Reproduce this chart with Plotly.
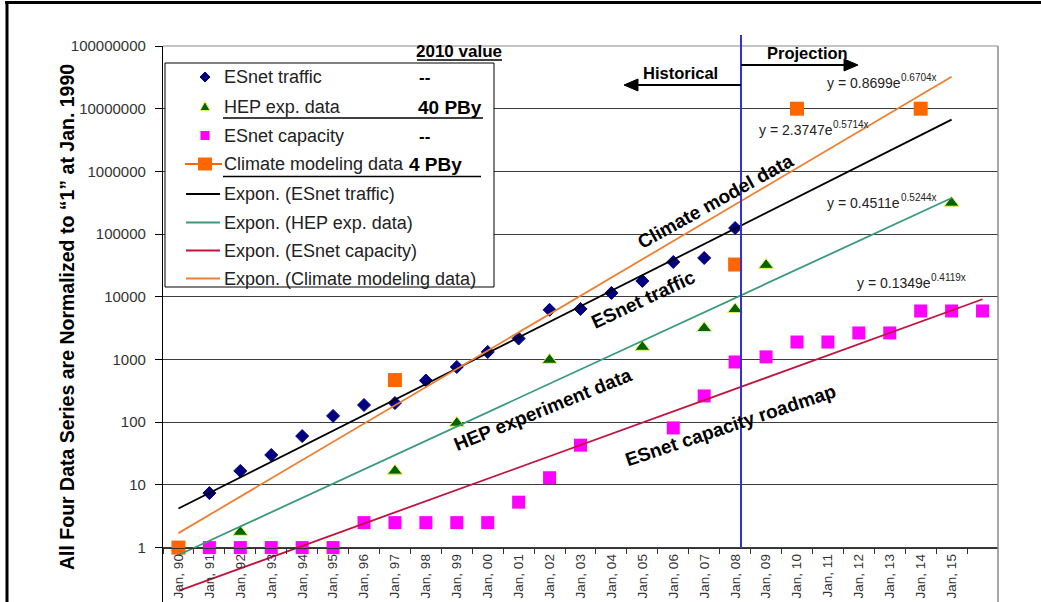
import plotly.graph_objects as go

# ---------------- data ----------------
categories = ["Jan, 90", "Jan, 91", "Jan, 92", "Jan, 93", "Jan, 94", "Jan, 95", "Jan, 96",
              "Jan, 97", "Jan, 98", "Jan, 99", "Jan, 00", "Jan, 01", "Jan, 02", "Jan, 03",
              "Jan, 04", "Jan, 05", "Jan, 06", "Jan, 07", "Jan, 08", "Jan, 09", "Jan, 10",
              "Jan, 11", "Jan, 12", "Jan, 13", "Jan, 14", "Jan, 15", "Jan, 16"]
tick_labels = ["Jan, 90", "Jan, 91", "Jan, 92", "Jan, 93", "Jan, 94", "Jan, 95", "Jan, 96",
               "Jan, 97", "Jan, 98", "Jan, 99", "Jan, 00", "Jan, 01", "Jan, 02", "Jan, 03",
               "Jan, 04", "Jan, 05", "Jan, 06", "Jan, 07", "Jan, 08", "Jan, 09", "Jan, 10",
               "Jan, 11", "Jan, 12", "Jan, 13", "Jan, 14", "Jan, 15"]

y_tickvals = [1, 10, 100, 1000, 10000, 100000, 1000000, 10000000, 100000000]
y_ticktext = ["1", "10", "100", "1000", "10000", "100000", "1000000", "10000000", "100000000"]

traffic_x = ["Jan, 90", "Jan, 91", "Jan, 92", "Jan, 93", "Jan, 94", "Jan, 95", "Jan, 96",
             "Jan, 97", "Jan, 98", "Jan, 99", "Jan, 00", "Jan, 01", "Jan, 02", "Jan, 03",
             "Jan, 04", "Jan, 05", "Jan, 06", "Jan, 07", "Jan, 08"]
traffic_y = [1, 7.4, 16.7, 30, 60, 126, 188, 202, 462, 760, 1320, 2160, 6200, 6400,
             11500, 17900, 35900, 41600, 125000]

hep_x = ["Jan, 90", "Jan, 92", "Jan, 97", "Jan, 99", "Jan, 02", "Jan, 05", "Jan, 07",
         "Jan, 08", "Jan, 09", "Jan, 15"]
hep_y = [1, 1.77, 16.7, 97, 980, 1580, 3150, 6300, 32000, 314000]

capacity_x = ["Jan, 90", "Jan, 91", "Jan, 92", "Jan, 93", "Jan, 94", "Jan, 95", "Jan, 96",
              "Jan, 97", "Jan, 98", "Jan, 99", "Jan, 00", "Jan, 01", "Jan, 02", "Jan, 03",
              "Jan, 06", "Jan, 07", "Jan, 08", "Jan, 09", "Jan, 10", "Jan, 11", "Jan, 12",
              "Jan, 13", "Jan, 14", "Jan, 15", "Jan, 16"]
capacity_y = [1, 1, 1, 1, 1, 1, 2.5, 2.5, 2.5, 2.5, 2.5, 5.3, 13, 43,
              81, 262, 912, 1100, 1900, 1900, 2650, 2650, 5940, 5940, 5940]

climate_x = ["Jan, 90", "Jan, 97", "Jan, 08", "Jan, 10", "Jan, 14"]
climate_y = [1, 470, 32700, 10000000, 10000000]

# exponential trend lines (straight on the log axis): end points
traffic_trend_x = ["Jan, 90", "Jan, 15"]
traffic_trend_y = [4.2, 6.7e6]
hep_trend_x = ["Jan, 90", "Jan, 15"]
hep_trend_y = [0.76, 3.76e5]
capacity_trend_x = ["Jan, 90", "Jan, 16"]
capacity_trend_y = [0.204, 9130]
climate_trend_x = ["Jan, 90", "Jan, 15"]
climate_trend_y = [1.70, 3.23e7]

# trend equations (base text, exponent)
equations = [("y = 0.8699e", "0.6704x"), ("y = 2.3747e", "0.5714x"),
             ("y = 0.4511e", "0.5244x"), ("y = 0.1349e", "0.4119x")]

# ---------------- layout helpers ----------------
W, H = 1041, 602
L, R, T, B = 163, 43, 46, 0
PW = W - L - R
PH = H - T - B
FONT = "Liberation Sans, Arial, sans-serif"


def fx(p):
    return (p - L) / PW


def fy(p):
    return (H - B - p) / PH


C_TRAFFIC = "#000080"
C_HEP = "#006400"
C_CAP = "#ff00ff"
C_CLIM = "#ff6600"
C_T_TRAFFIC = "#000000"
C_T_HEP = "#3a9a78"
C_T_CAP = "#c0143c"
C_T_CLIM = "#ec8030"

fig = go.Figure()

fig.add_trace(go.Scatter(x=traffic_x, y=traffic_y, mode="markers", name="ESnet traffic",
                         marker=dict(symbol="diamond", size=10, color=C_TRAFFIC,
                                     line=dict(color=C_TRAFFIC, width=1))))
fig.add_trace(go.Scatter(x=hep_x, y=hep_y, mode="markers", name="HEP exp. data",
                         marker=dict(symbol="triangle-up", size=13, color=C_HEP,
                                     line=dict(color="#f0f060", width=1))))
fig.add_trace(go.Scatter(x=capacity_x, y=capacity_y, mode="markers", name="ESnet capacity",
                         marker=dict(symbol="square", size=13, color=C_CAP,
                                     line=dict(width=0))))
fig.add_trace(go.Scatter(x=climate_x, y=climate_y, mode="markers", name="Climate modeling data",
                         marker=dict(symbol="square", size=14, color=C_CLIM,
                                     line=dict(width=0))))
for tx, ty, col, nm in [(traffic_trend_x, traffic_trend_y, C_T_TRAFFIC, "Expon. (ESnet traffic)"),
                        (hep_trend_x, hep_trend_y, C_T_HEP, "Expon. (HEP exp. data)"),
                        (capacity_trend_x, capacity_trend_y, C_T_CAP, "Expon. (ESnet capacity)"),
                        (climate_trend_x, climate_trend_y, C_T_CLIM, "Expon. (Climate modeling data)")]:
    fig.add_trace(go.Scatter(x=tx, y=ty, mode="lines", name=nm,
                             line=dict(color=col, width=1.8)))

shapes = []
annots = []


def hline(x0, x1, y, color="#000", width=1):
    shapes.append(dict(type="line", xref="paper", yref="paper", x0=fx(x0), x1=fx(x1),
                       y0=fy(y), y1=fy(y), line=dict(color=color, width=width)))


def vline(x, y0, y1, color="#000", width=1):
    shapes.append(dict(type="line", xref="paper", yref="paper", x0=fx(x), x1=fx(x),
                       y0=fy(y0), y1=fy(y1), line=dict(color=color, width=width)))


def poly(points, color):
    path = "M " + " L ".join("%f %f" % (fx(a), fy(b)) for a, b in points) + " Z"
    shapes.append(dict(type="path", xref="paper", yref="paper", layer="above", path=path,
                       fillcolor=color, line=dict(color=color, width=1)))


def text(x, y, s, size, bold=False, xanchor="center", color="#000", angle=0):
    annots.append(dict(xref="paper", yref="paper", x=fx(x), y=fy(y), text=("<b>%s</b>" % s) if bold else s,
                       showarrow=False, xanchor=xanchor, yanchor="middle", textangle=angle,
                       font=dict(family=FONT, size=size, color=color)))


# outer frame (top + left)
hline(5, 1041, 2.5, "#000", 3)
vline(7, 1, 602, "#000", 3)

# plot area border (top / right, gray)
hline(L, W - R, T, "#8a8a8a", 1.2)
vline(W - R, T, 602, "#8a8a8a", 1.5)

# legend box
shapes.append(dict(type="rect", xref="paper", yref="paper", x0=fx(165), x1=fx(494),
                   y0=fy(63), y1=fy(287), fillcolor="white", line=dict(color="#000", width=1),
                   layer="above"))
rows = [77, 106.5, 135.5, 164, 194, 222.5, 250.5, 278.5]
labels = ["ESnet traffic", "HEP exp. data", "ESnet capacity", "Climate modeling data",
          "Expon. (ESnet traffic)", "Expon. (HEP exp. data)", "Expon. (ESnet capacity)",
          "Expon. (Climate modeling data)"]
for r, lab in zip(rows, labels):
    text(222, r, lab, 18, xanchor="left", color="#222")

sx = 205
r0, r1, r2, r3 = rows[:4]
poly([(sx - 5, r0), (sx, r0 - 5), (sx + 5, r0), (sx, r0 + 5)], C_TRAFFIC)
shapes.append(dict(type="path", xref="paper", yref="paper", layer="above",
                   path="M %f %f L %f %f L %f %f Z" % (fx(sx - 5), fy(r1 + 4), fx(sx), fy(r1 - 5),
                                                       fx(sx + 5), fy(r1 + 4)),
                   fillcolor=C_HEP, line=dict(color="#f0f060", width=1)))
shapes.append(dict(type="rect", xref="paper", yref="paper", layer="above",
                   x0=fx(sx - 4.5), x1=fx(sx + 4.5), y0=fy(r2 - 4.5), y1=fy(r2 + 4.5),
                   fillcolor=C_CAP, line=dict(width=0)))
shapes.append(dict(type="line", xref="paper", yref="paper", layer="above",
                   x0=fx(185), x1=fx(222), y0=fy(r3), y1=fy(r3), line=dict(color=C_CLIM, width=2)))
shapes.append(dict(type="rect", xref="paper", yref="paper", layer="above",
                   x0=fx(sx - 7), x1=fx(sx + 7), y0=fy(r3 - 6.5), y1=fy(r3 + 6.5),
                   fillcolor=C_CLIM, line=dict(width=0)))
for r, col in zip(rows[4:], [C_T_TRAFFIC, C_T_HEP, C_T_CAP, C_T_CLIM]):
    shapes.append(dict(type="line", xref="paper", yref="paper", layer="above",
                       x0=fx(186), x1=fx(220), y0=fy(r), y1=fy(r), line=dict(color=col, width=2)))

# 2010 value column
text(459, 51, "2010 value", 17, bold=True)
hline(417, 502, 60, "#000", 1.5)
text(417, 77, "--", 17, bold=True, xanchor="left")
text(416, 107, "40 PBy", 19, bold=True, xanchor="left")
text(417, 136, "--", 17, bold=True, xanchor="left")
text(407, 164, "4 PBy", 19, bold=True, xanchor="left")
hline(223, 483, 118, "#000", 1.5)
hline(223, 481, 176.5, "#000", 1.5)

# historical / projection divider with arrows
vline(741, 35, 548, "#3030e0", 2)
text(680, 73, "Historical", 16.5, bold=True)
text(807, 53, "Projection", 16.5, bold=True)
hline(636, 741, 85, "#000", 2)
poly([(624, 85), (638, 79), (638, 91)], "#000")
hline(741, 846, 65, "#000", 2)
poly([(858, 65), (844, 59), (844, 71)], "#000")

# trend line equations: base text, exponent placed right after the "e"
eq_pos = [(825, 83), (757, 130), (825, 203), (855, 283)]
for (base, expo), (ex, ey) in zip(equations, eq_pos):
    text(ex, ey, base, 14, xanchor="left", color="#222")
    text(ex + 74, ey - 6, expo, 10, xanchor="left", color="#222")

# rotated series labels
text(715, 201, "Climate model data", 19, bold=True, angle=-29)
text(643, 299, "ESnet traffic", 19, bold=True, angle=-25)
text(543, 410, "HEP experiment data", 19, bold=True, angle=-22)
text(730, 425, "ESnet capacity roadmap", 19, bold=True, angle=-18.5)

# y axis title
text(67, 317, "All Four Data Series are Normalized to \u201c1\u201d at Jan. 1990", 19.5, bold=True, angle=-90)

fig.update_layout(
    width=W, height=H,
    margin=dict(l=L, r=R, t=T, b=B, pad=0),
    paper_bgcolor="white", plot_bgcolor="white",
    showlegend=False,
    font=dict(family=FONT, color="#333"),
    shapes=shapes,
    annotations=annots,
    xaxis=dict(type="category", categoryorder="array", categoryarray=categories,
               range=[-0.5, 26.5], tickmode="array", tickvals=tick_labels, ticktext=tick_labels,
               tickangle=-90, ticks="outside", ticklen=5, tickcolor="#333", tickson="boundaries",
               showline=True, linecolor="#333", linewidth=1.2, showgrid=False, zeroline=False,
               anchor="free", position=fy(547.6),
               tickfont=dict(family=FONT, size=13.5, color="#333")),
    yaxis=dict(type="log", range=[-0.868, 8], tickmode="array", tickvals=y_tickvals,
               ticktext=y_ticktext, ticks="outside", ticklen=7, tickcolor="#000",
               showline=True, linecolor="#000", linewidth=1.2,
               showgrid=True, gridcolor="#3c3c3c", gridwidth=1, zeroline=False,
               ticklabelstandoff=6,
               tickfont=dict(family=FONT, size=15, color="#333")),
)

fig.write_html("out.html")
